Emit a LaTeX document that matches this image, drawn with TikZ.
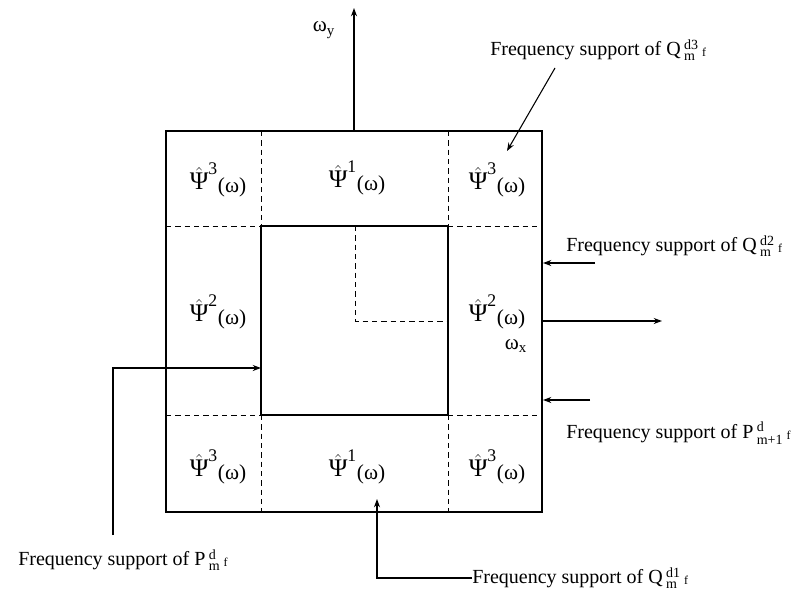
\documentclass[tikz,border=0pt]{standalone}
\usepackage{amsmath}
\usepackage{fontspec}
\setmainfont{Liberation Serif}
\usetikzlibrary{arrows.meta}

\newcommand{\psihat}[1]{$\hat{\text{Ψ}}^{\text{#1}}$\raisebox{-0.25ex}{\fontsize{16}{18}\selectfont(ω)}}
\newcommand{\opof}[3]{#1\,$^{\text{#2}}_{\text{#3}}$\,\raisebox{-0.1ex}{\small f}}

\begin{document}
\begin{tikzpicture}[
  x=0.75pt,y=-0.75pt,
  >={Stealth[length=2.2mm,width=1.6mm]},
  frame/.style={line width=0.8pt,black},
  split/.style={dashed,line width=0.7pt,dash pattern=on 4pt off 3pt},
  psilbl/.style={font=\fontsize{19}{21}\selectfont},
  note/.style={font=\fontsize{15}{18}\selectfont,anchor=west,inner sep=0pt},
  axlbl/.style={font=\fontsize{16}{18}\selectfont},
  pointer/.style={->,line width=0.8pt},
]
  \useasboundingbox (0,0) rectangle (796,593);

  % --- outer and inner squares ---
  \draw[frame] (166,131) rectangle (542,512);
  \draw[frame] (261,226) rectangle (448,415);

  % --- dashed partition ---
  \draw[split] (261,131) -- (261,226);
  \draw[split] (448,131) -- (448,226);
  \draw[split] (261,415) -- (261,512);
  \draw[split] (448,415) -- (448,512);
  \draw[split] (166,226) -- (261,226);
  \draw[split] (448,226) -- (542,226);
  \draw[split] (166,415) -- (261,415);
  \draw[split] (448,415) -- (542,415);
  \draw[split] (355,226) -- (355,321) -- (448,321);

  % --- axes ---
  \coordinate (oy) at (354,131);
  \coordinate (ytip) at (354,8);
  \coordinate (ox) at (542,321);
  \coordinate (xtip) at (662,321);
  \draw[pointer] (oy) -- (ytip);
  \draw[pointer] (ox) -- (xtip);
  \node[axlbl] (wy) at (324,30) {ω$_{\text{y}}$};
  \node[axlbl] (wx) at (516,346) {ω$_{\text{x}}$};

  % --- wavelet labels ---
  \node[psilbl] (tl) at (218,180) {\psihat{3}};
  \node[psilbl] (tm) at (357,178) {\psihat{1}};
  \node[psilbl] (tr) at (497,180) {\psihat{3}};
  \node[psilbl] (ml) at (218,312) {\psihat{2}};
  \node[psilbl] (mr) at (497,312) {\psihat{2}};
  \node[psilbl] (bl) at (218,467) {\psihat{3}};
  \node[psilbl] (bm) at (357,467) {\psihat{1}};
  \node[psilbl] (br) at (497,467) {\psihat{3}};

  % --- frequency supports ---
  \node[note] (q3) at (490,50) {Frequency support of \opof{Q}{d3}{m}};
  \node[note] (q2) at (566,246) {Frequency support of \opof{Q}{d2}{m}};
  \node[note] (p1) at (566,433) {Frequency support of \opof{P}{d}{m+1}};
  \node[note] (pm) at (18,560) {Frequency support of \opof{P}{d}{m}};
  \node[note] (q1) at (472,578) {Frequency support of \opof{Q}{d1}{m}};

  \coordinate (q3from) at (555,68);
  \coordinate (q3to) at (507,151);
  \coordinate (q2from) at (595,263);
  \coordinate (q2to) at (543,263);
  \coordinate (p1from) at (590,400);
  \coordinate (p1to) at (543,400);
  \coordinate (pmturn) at (113,368);
  \coordinate (pmfoot) at (113,535);
  \coordinate (pmto) at (261,368);
  \coordinate (q1to) at (377,499);

  \draw[pointer] (q3from) -- (q3to);
  \draw[pointer] (q2from) -- (q2to);
  \draw[pointer] (p1from) -- (p1to);
  \draw[pointer] (pmfoot) -- (pmturn) -- (pmto);
  \draw[pointer] (q1.west) -| (q1to);

\end{tikzpicture}
\end{document}
